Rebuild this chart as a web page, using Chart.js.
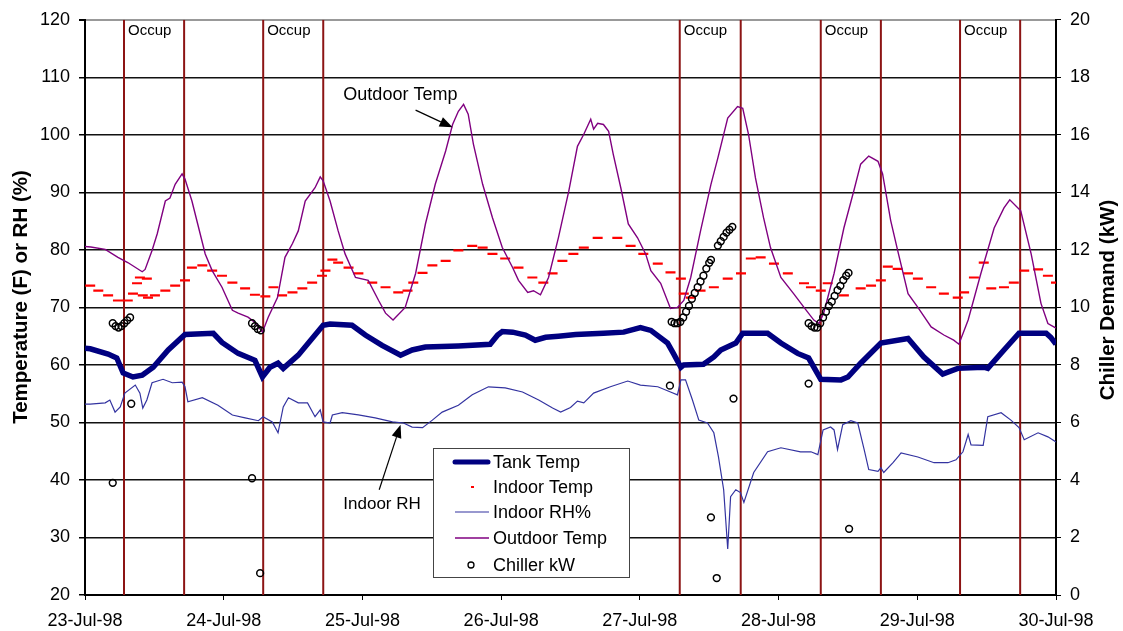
<!DOCTYPE html>
<html>
<head>
<meta charset="utf-8">
<script src="https://cdn.jsdelivr.net/npm/chart.js@4.4.0/dist/chart.umd.min.js"></script>
<style>
	html, body { margin: 0; padding: 0; background: #fff; }
	#wrap { width: 1123px; height: 631px; }
</style>
</head>
<body>
<div id="wrap"><canvas id="chart" width="1123" height="631"></canvas></div>
<script>
// time is in hours since 23-Jul-98 00:00
const dayTicks = [0, 24, 48, 72, 96, 120, 144, 168];

const tankHours = [0, 0.9, 4.0, 5.5, 6.6, 8.3, 9.9, 11.8, 14.4, 17.3, 22.2, 23.7, 26.5, 29.4, 30.7, 32.0, 33.4, 34.3, 36.9, 41.2, 42.4, 46.2, 48.5, 51.4, 54.6, 56.6, 58.9, 64.6, 70.1, 71.4, 72.2, 74.0, 76.2, 77.9, 79.7, 81.9, 84.9, 89.7, 93.2, 96.1, 97.9, 100.8, 101.8, 103.1, 103.6, 107.0, 108.8, 110.0, 112.6, 113.8, 118.1, 120.4, 123.3, 125.2, 127.3, 130.8, 132.0, 134.2, 137.7, 142.4, 145.1, 148.4, 151.0, 155.5, 156.2, 159.0, 161.6, 166.3, 167.1, 168];
const tankTemp = [62.9, 62.8, 61.9, 61.2, 58.6, 57.9, 58.2, 59.6, 62.6, 65.3, 65.5, 63.9, 62.0, 60.8, 57.9, 59.6, 60.3, 59.4, 61.7, 66.9, 67.1, 66.9, 65.2, 63.4, 61.7, 62.6, 63.1, 63.3, 63.6, 65.2, 65.8, 65.7, 65.2, 64.3, 64.8, 65.0, 65.3, 65.5, 65.7, 66.5, 66.0, 63.8, 62.0, 59.6, 60.0, 60.1, 61.4, 62.6, 63.8, 65.5, 65.5, 63.8, 62.0, 61.2, 57.5, 57.4, 57.9, 60.3, 63.8, 64.6, 61.4, 58.4, 59.4, 59.6, 59.4, 62.6, 65.5, 65.5, 64.8, 63.6];

const indoorHours = [0.9, 2.3, 4.0, 5.7, 7.4, 8.3, 9.0, 9.5, 10.0, 10.7, 10.9, 12.1, 13.9, 15.6, 17.3, 18.5, 20.3, 22.0, 23.7, 25.5, 27.7, 29.4, 31.2, 32.6, 34.1, 35.9, 37.6, 39.3, 41.0, 41.6, 42.8, 43.8, 45.6, 47.3, 49.7, 52.0, 54.2, 55.8, 56.8, 58.4, 60.1, 62.4, 64.6, 67.0, 68.8, 70.5, 72.7, 75.0, 77.4, 79.3, 80.9, 82.6, 84.5, 86.3, 88.7, 92.1, 94.4, 96.6, 99.1, 101.3, 103.1, 103.6, 104.8, 106.5, 108.8, 111.2, 113.5, 115.2, 116.9, 119.2, 121.6, 124.4, 125.6, 127.3, 128.5, 131.3, 134.2, 136.0, 137.7, 138.9, 140.6, 142.4, 144.1, 146.4, 148.6, 151.0, 152.1, 153.8, 155.5, 156.8, 159.0, 160.7, 162.5, 164.9, 166.6, 168];
const indoorTemp = [73.8, 72.9, 72.1, 71.2, 71.2, 72.4, 74.2, 75.2, 72.1, 75.0, 71.7, 72.1, 72.9, 73.8, 74.7, 76.9, 77.3, 76.4, 75.5, 74.3, 73.3, 72.2, 71.9, 73.5, 72.1, 72.6, 73.3, 74.3, 75.5, 76.4, 78.3, 77.8, 76.9, 75.9, 74.3, 73.5, 72.6, 72.9, 74.3, 76.0, 77.3, 78.1, 79.9, 80.7, 80.4, 79.3, 78.5, 76.9, 75.2, 74.3, 75.9, 78.1, 79.3, 80.4, 82.1, 82.1, 80.7, 79.3, 77.6, 76.1, 75.0, 72.4, 71.7, 72.9, 73.5, 75.0, 75.9, 78.5, 78.7, 77.6, 75.9, 74.2, 73.5, 72.9, 74.2, 72.1, 73.3, 73.8, 74.7, 77.1, 76.7, 75.9, 75.0, 73.5, 72.4, 71.7, 72.6, 75.2, 77.8, 73.3, 73.5, 74.3, 76.4, 76.6, 75.5, 74.3];

const rhHours = [0, 0.9, 3.5, 4.3, 5.2, 6.1, 6.9, 8.7, 9.5, 10.0, 10.7, 11.6, 13.5, 15.1, 16.8, 17.3, 17.8, 20.3, 23.0, 25.5, 27.7, 30.0, 30.8, 32.4, 33.4, 34.3, 35.2, 36.9, 38.5, 39.8, 40.7, 41.2, 42.4, 42.8, 44.5, 47.3, 50.2, 53.2, 55.1, 56.6, 58.4, 60.1, 61.8, 64.6, 67.0, 69.8, 72.7, 75.7, 78.5, 80.9, 82.3, 84.0, 85.2, 86.3, 88.0, 90.9, 93.9, 96.1, 99.1, 101.3, 102.5, 103.1, 103.9, 105.1, 106.2, 107.7, 108.8, 109.6, 110.5, 111.2, 111.7, 112.6, 113.4, 114.0, 115.7, 118.1, 120.4, 123.8, 125.6, 126.8, 127.7, 129.0, 129.6, 130.2, 131.1, 132.5, 133.7, 134.8, 135.6, 137.2, 137.7, 138.2, 139.8, 141.2, 144.1, 146.9, 149.3, 150.7, 151.9, 152.8, 153.3, 155.4, 156.2, 158.5, 160.2, 161.6, 162.5, 164.9, 166.6, 168];
const rhValues = [53.2, 53.2, 53.4, 53.9, 51.8, 52.7, 55.1, 56.5, 55.1, 52.5, 53.9, 56.9, 57.5, 56.9, 57.0, 56.2, 53.6, 54.3, 53.0, 51.3, 50.8, 50.3, 51.0, 50.1, 48.2, 52.7, 54.3, 53.4, 53.4, 51.0, 52.2, 50.1, 49.9, 51.3, 51.7, 51.3, 50.8, 50.1, 49.9, 49.2, 49.1, 50.4, 51.8, 53.0, 54.8, 56.2, 56.0, 55.3, 53.9, 52.5, 51.8, 52.6, 53.7, 53.4, 55.1, 56.2, 57.2, 56.5, 56.2, 55.3, 54.8, 57.4, 57.4, 53.9, 50.4, 49.9, 48.2, 44.0, 38.3, 28.0, 37.1, 38.3, 37.8, 36.1, 41.3, 44.9, 45.6, 44.9, 44.9, 44.4, 48.7, 49.2, 48.7, 45.3, 49.6, 50.3, 49.9, 45.3, 41.8, 41.5, 42.1, 41.3, 43.0, 44.7, 44.0, 43.0, 43.0, 43.5, 44.9, 47.9, 46.1, 46.0, 51.0, 51.7, 50.4, 49.1, 47.0, 48.2, 47.5, 46.6];

const outdoorHours = [0, 1.0, 3.5, 5.7, 7.4, 9.9, 10.4, 11.6, 12.5, 13.9, 14.7, 15.6, 16.8, 17.3, 18.5, 19.5, 20.8, 22.0, 23.7, 25.5, 26.5, 28.2, 29.4, 30.7, 31.7, 33.3, 34.6, 35.9, 36.9, 38.1, 39.8, 40.7, 41.2, 42.4, 43.8, 45.0, 46.8, 49.0, 50.8, 52.0, 53.3, 55.4, 57.2, 58.9, 60.6, 62.4, 63.6, 64.6, 65.5, 66.3, 67.2, 68.8, 70.5, 72.2, 74.0, 75.0, 76.6, 77.6, 78.8, 80.2, 81.9, 83.7, 85.2, 86.3, 87.5, 88.0, 88.7, 89.7, 90.6, 91.4, 92.7, 94.0, 95.6, 97.0, 97.9, 99.6, 101.3, 102.5, 103.6, 104.8, 106.5, 108.3, 109.5, 111.2, 112.9, 113.8, 114.8, 116.0, 117.4, 118.6, 120.4, 122.6, 124.4, 126.1, 127.0, 127.8, 129.6, 131.3, 133.0, 134.2, 135.6, 137.2, 138.0, 139.4, 140.6, 142.4, 144.1, 146.4, 148.6, 150.3, 151.2, 152.8, 155.0, 157.3, 159.0, 160.0, 161.9, 163.7, 165.4, 166.6, 168];
const outdoorTemp = [80.6, 80.5, 80.1, 78.7, 77.8, 76.2, 76.6, 79.9, 82.8, 88.5, 89.0, 91.4, 93.2, 92.3, 88.5, 84.5, 79.3, 76.4, 73.5, 69.5, 69.0, 68.3, 67.4, 65.7, 68.3, 71.7, 78.7, 81.1, 83.3, 88.5, 90.8, 92.7, 92.0, 88.5, 83.3, 79.3, 75.2, 74.7, 71.2, 69.0, 67.8, 70.0, 75.9, 84.5, 91.4, 97.2, 101.8, 104.1, 105.3, 103.6, 98.4, 91.4, 85.6, 80.4, 76.9, 74.7, 72.6, 72.9, 72.2, 75.2, 82.1, 90.2, 98.0, 100.1, 102.7, 101.0, 102.0, 101.8, 100.6, 96.6, 90.8, 84.5, 82.1, 79.3, 76.4, 74.2, 69.8, 70.0, 71.2, 75.2, 83.3, 91.4, 96.0, 102.9, 104.9, 104.6, 100.1, 92.5, 85.6, 80.4, 75.2, 72.4, 70.0, 67.8, 67.2, 69.0, 75.9, 83.8, 90.2, 94.9, 96.3, 95.4, 93.2, 85.1, 79.9, 72.4, 70.0, 66.6, 65.2, 64.3, 63.6, 67.8, 75.9, 83.8, 87.3, 88.7, 86.8, 79.3, 70.7, 67.2, 66.4];

const chillerHours = [4.8, 4.8, 5.3, 5.8, 6.3, 6.8, 7.3, 7.8, 8.0, 28.9, 28.9, 29.4, 29.9, 30.4, 30.3, 101.2, 101.5, 102.0, 102.5, 103.0, 103.5, 104.0, 104.5, 105.0, 105.5, 106.0, 106.5, 107.0, 107.5, 108.0, 108.3, 108.3, 109.3, 109.5, 110.0, 110.5, 111.0, 111.5, 112.0, 112.2, 125.2, 125.2, 125.7, 126.2, 126.7, 127.2, 127.7, 128.2, 128.7, 129.2, 129.7, 130.2, 130.7, 131.2, 131.7, 132.1, 132.2];
const chillerKw = [3.9, 9.45, 9.35, 9.3, 9.35, 9.45, 9.55, 9.65, 6.65, 4.06, 9.45, 9.35, 9.25, 9.2, 0.76, 7.28, 9.5, 9.45, 9.45, 9.5, 9.65, 9.85, 10.05, 10.3, 10.5, 10.7, 10.9, 11.1, 11.35, 11.55, 11.65, 2.7, 0.59, 12.15, 12.3, 12.45, 12.6, 12.7, 12.8, 6.83, 7.35, 9.45, 9.35, 9.3, 9.3, 9.45, 9.65, 9.85, 10.05, 10.2, 10.4, 10.6, 10.75, 10.95, 11.1, 11.2, 2.3];

// occupied periods (start, end) in hours
const occStart = [6.75, 30.83, 102.9, 127.3, 151.4];
const occEnd = [17.15, 41.22, 113.45, 137.7, 161.8];

const FONT = 'Arial, "Liberation Sans", sans-serif';
const TANK_COLOR = '#000080';
const INDOOR_COLOR = '#ff0000';
const RH_COLOR = '#3333a0';
const OUTDOOR_COLOR = '#800080';
const OCC_COLOR = 'rgb(140,20,20)';

const pts = (xs, ys) => xs.map((x, i) => ({x: x, y: ys[i]}));

// vertical occupancy markers, broken apart by null points
const occPoints = [];
occStart.concat(occEnd).forEach( (t) => {
	occPoints.push({x: t, y: 20}, {x: t, y: 120}, {x: t, y: null});
});

const arrow = (ctx, x1, y1, x2, y2) => {
	const ang = Math.atan2(y2 - y1, x2 - x1);
	const len = 13, half = 5;
	ctx.beginPath();
	ctx.moveTo(x1, y1);
	ctx.lineTo(x2 - Math.cos(ang) * len, y2 - Math.sin(ang) * len);
	ctx.stroke();
	ctx.beginPath();
	ctx.moveTo(x2, y2);
	ctx.lineTo(x2 - Math.cos(ang) * len - Math.sin(ang) * half, y2 - Math.sin(ang) * len + Math.cos(ang) * half);
	ctx.lineTo(x2 - Math.cos(ang) * len + Math.sin(ang) * half, y2 - Math.sin(ang) * len - Math.cos(ang) * half);
	ctx.closePath();
	ctx.fill();
};

// callout text is anchored left (Outdoor) or right (Indoor RH)
const notes = [
	{text: 'Outdoor Temp', align: 'left', size: 18, x: 44.7, y: 107.0, tailX: 57.2, tailY: 104.3, tipX: 63.6, tipY: 101.3},
	{text: 'Indoor RH', align: 'right', size: 17, x: 58.1, y: 35.7, tailX: 50.9, tailY: 38.3, tipX: 54.6, tipY: 49.6}
];

const overlay = {
	id: 'overlay',
	afterDraw(chart) {
		const ctx = chart.ctx;
		const sx = chart.scales.x, sy = chart.scales.y;
		const area = chart.chartArea;
		ctx.save();
		ctx.fillStyle = '#000';
		ctx.strokeStyle = '#000';

		// axis titles
		ctx.font = 'bold 20.5px ' + FONT;
		ctx.textAlign = 'center';
		ctx.textBaseline = 'middle';
		ctx.save();
		ctx.translate(21, 297);
		ctx.rotate(-Math.PI / 2);
		ctx.fillText('Temperature (F) or RH (%)', 0, 0);
		ctx.restore();
		ctx.save();
		ctx.translate(1108, 300);
		ctx.rotate(-Math.PI / 2);
		ctx.fillText('Chiller Demand (kW)', 0, 0);
		ctx.restore();

		// occupancy labels
		ctx.font = '15px ' + FONT;
		ctx.textAlign = 'left';
		occStart.forEach( (t) => {
			ctx.fillText('Occup', sx.getPixelForValue(t) + 4, area.top + 11);
		});

		// callouts
		ctx.lineWidth = 1.2;
		notes.forEach( (n) => {
			ctx.font = n.size + 'px ' + FONT;
			ctx.textAlign = n.align;
			ctx.fillText(n.text, sx.getPixelForValue(n.x), sy.getPixelForValue(n.y));
			arrow(ctx, sx.getPixelForValue(n.tailX), sy.getPixelForValue(n.tailY),
				sx.getPixelForValue(n.tipX), sy.getPixelForValue(n.tipY));
		});
		ctx.textAlign = 'left';

		// legend box
		const bx = 433, by = 448, bw = 196, bh = 129;
		ctx.fillStyle = '#fff';
		ctx.fillRect(bx, by, bw, bh);
		ctx.strokeStyle = '#444';
		ctx.lineWidth = 1;
		ctx.strokeRect(bx + 0.5, by + 0.5, bw, bh);
		const rows = [462, 487, 512, 538, 565];
		const labels = ['Tank Temp', 'Indoor Temp', 'Indoor RH%', 'Outdoor Temp', 'Chiller kW'];
		ctx.lineCap = 'round';
		ctx.strokeStyle = TANK_COLOR; ctx.lineWidth = 5;
		ctx.beginPath(); ctx.moveTo(455, rows[0]); ctx.lineTo(488, rows[0]); ctx.stroke();
		ctx.lineCap = 'butt';
		ctx.fillStyle = INDOOR_COLOR;
		ctx.fillRect(471, rows[1] - 1, 3, 2);
		ctx.strokeStyle = RH_COLOR; ctx.lineWidth = 1.2;
		ctx.beginPath(); ctx.moveTo(455, rows[2]); ctx.lineTo(489, rows[2]); ctx.stroke();
		ctx.strokeStyle = OUTDOOR_COLOR; ctx.lineWidth = 1.5;
		ctx.beginPath(); ctx.moveTo(455, rows[3]); ctx.lineTo(489, rows[3]); ctx.stroke();
		ctx.strokeStyle = '#000'; ctx.lineWidth = 1.3;
		ctx.beginPath(); ctx.arc(471, rows[4], 3, 0, Math.PI * 2); ctx.stroke();
		ctx.fillStyle = '#000';
		ctx.font = '18px ' + FONT;
		labels.forEach( (l, i) => ctx.fillText(l, 493, rows[i] + 1) );
		ctx.restore();
	}
};

Chart.defaults.font.family = FONT;
Chart.defaults.color = '#000';

const chart = new Chart(document.getElementById('chart').getContext('2d'), {
	type: 'scatter',
	data: {
		datasets: [
			{
				label: 'Chiller kW',
				data: pts(chillerHours, chillerKw),
				yAxisID: 'y2',
				pointStyle: 'circle',
				pointRadius: 3.4,
				pointBorderWidth: 1.5,
				pointBorderColor: '#000',
				pointBackgroundColor: 'rgba(0,0,0,0)',
				order: 0
			},
			{
				label: 'Outdoor Temp',
				data: pts(outdoorHours, outdoorTemp),
				showLine: true,
				borderColor: OUTDOOR_COLOR,
				borderWidth: 1.4,
				pointRadius: 0,
				order: 1
			},
			{
				label: 'Indoor Temp',
				data: pts(indoorHours, indoorTemp),
				pointStyle: 'line',
				pointRadius: 5,
				pointBorderWidth: 2.2,
				pointBorderColor: INDOOR_COLOR,
				order: 2
			},
			{
				label: 'Tank Temp',
				data: pts(tankHours, tankTemp),
				showLine: true,
				borderColor: TANK_COLOR,
				borderWidth: 5.5,
				pointRadius: 0,
				order: 3
			},
			{
				label: 'Indoor RH%',
				data: pts(rhHours, rhValues),
				showLine: true,
				borderColor: RH_COLOR,
				borderWidth: 1.2,
				pointRadius: 0,
				order: 4
			},
			{
				label: 'occupied',
				data: occPoints,
				showLine: true,
				spanGaps: false,
				borderColor: OCC_COLOR,
				borderWidth: 2,
				pointRadius: 0,
				order: 5
			}
		]
	},
	options: {
		responsive: false,
		animation: false,
		events: [],
		layout: { padding: { top: 18, left: 0, right: 0, bottom: 0 } },
		plugins: { legend: { display: false }, tooltip: { enabled: false } },
		scales: {
			x: {
				type: 'linear',
				min: 0,
				max: 168,
				afterBuildTicks: (scale) => { scale.ticks = dayTicks.map(v => ({value: v})); },
				afterFit: (scale) => { scale.height = 36; },
				ticks: {
					font: { size: 18 },
					padding: 10,
					maxRotation: 0,
					autoSkip: false,
					callback: (v) => (23 + v / 24) + '-Jul-98'
				},
				grid: { drawOnChartArea: false, drawTicks: true, tickLength: 5, color: '#000' },
				border: { color: '#000', width: 2 }
			},
			y: {
				position: 'left',
				min: 20,
				max: 120,
				afterFit: (scale) => { scale.width = 85; },
				ticks: { stepSize: 10, font: { size: 18 }, padding: 9 },
				grid: {
					color: (c) => (c.tick && c.tick.value === 120) ? '#999' : '#111',
					lineWidth: (c) => (c.tick && c.tick.value === 120) ? 2 : 1.5,
					tickLength: 6,
					tickColor: '#000'
				},
				border: { color: '#000', width: 2 }
			},
			y2: {
				position: 'right',
				min: 0,
				max: 20,
				afterFit: (scale) => { scale.width = 67; },
				ticks: { stepSize: 2, font: { size: 18 }, padding: 9 },
				grid: { drawOnChartArea: false, tickLength: 5, color: '#000' },
				border: { color: '#000', width: 2 }
			}
		}
	},
	plugins: [overlay]
});
</script>
</body>
</html>
